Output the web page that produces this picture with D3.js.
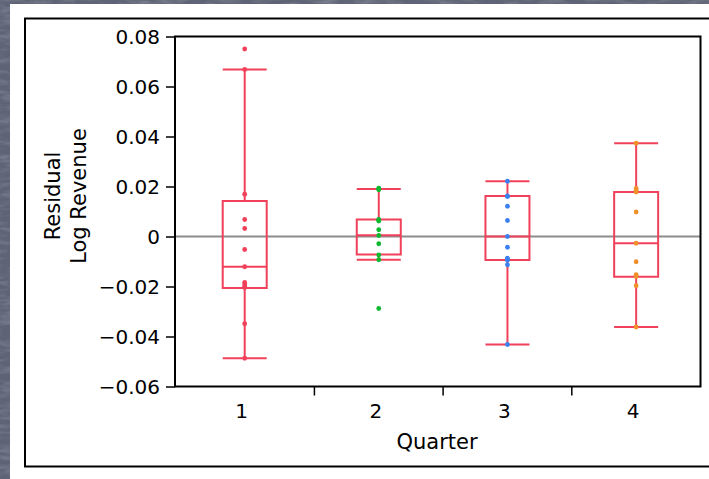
<!DOCTYPE html>
<html>
<head>
<meta charset="utf-8">
<script src="https://cdn.jsdelivr.net/npm/d3@7"></script>
<style>
  html, body { margin: 0; padding: 0; background: #5e6475; }
  svg { display: block; }
  text { font-family: "DejaVu Sans", "Lucida Grande", sans-serif; fill: #000; }
</style>
</head>
<body>
<svg id="chart" width="709" height="479"></svg>
<script>
// ---- data ----
const quarters = ["1", "2", "3", "4"];
const q1Points = [0.0750, 0.0668, 0.0169, 0.0068, 0.0032, -0.0052, -0.0121, -0.0184, -0.0190, -0.0198, -0.0204, -0.0349, -0.0487];
const q2Points = [0.0193, 0.0190, 0.0187, 0.0068, 0.0065, 0.0062, 0.0027, 0.0004, -0.0029, -0.0074, -0.0093, -0.0288];
const q3Points = [0.0221, 0.0162, 0.0160, 0.0121, 0.0064, 0.0000, -0.0043, -0.0087, -0.0090, -0.0094, -0.0113, -0.0432];
const q4Points = [0.0373, 0.0192, 0.0185, 0.0178, 0.0098, -0.0027, -0.0101, -0.0153, -0.0156, -0.0160, -0.0197, -0.0362];
const pointSets = [q1Points, q2Points, q3Points, q4Points];
// box statistics per quarter
const whiskerHigh = [0.0668, 0.0190, 0.0221, 0.0373];
const boxQ3       = [0.0142, 0.0068, 0.0162, 0.0178];
const boxMedian   = [-0.0121, 0.0005, 0.0000, -0.0027];
const boxQ1       = [-0.0206, -0.0072, -0.0094, -0.0161];
const whiskerLow  = [-0.0487, -0.0093, -0.0432, -0.0362];
const yTicks = [0.08, 0.06, 0.04, 0.02, 0, -0.02, -0.04, -0.06];
const pointColors = ["#f0405a", "#10b830", "#3a80f0", "#f0902a"];
const boxColor = "#f0405a";

// ---- layout ----
const svg = d3.select("#chart");
const defs = svg.append("defs");
const f = defs.append("filter").attr("id", "tex").attr("x", 0).attr("y", 0).attr("width", 1).attr("height", 1);
f.append("feTurbulence").attr("type", "fractalNoise").attr("baseFrequency", "0.05 0.2").attr("numOctaves", 3).attr("seed", 7).attr("result", "n");
f.append("feColorMatrix").attr("in", "n").attr("type", "matrix")
  .attr("values", "0 0 0 0 0.52  0 0 0 0 0.55  0 0 0 0 0.62  0.6 0 0 0 -0.25");
svg.append("rect").attr("width", 709).attr("height", 479).attr("fill", "#5e6475");
svg.append("rect").attr("width", 709).attr("height", 479).attr("filter", "url(#tex)");

// white panel and frame
svg.append("rect").attr("x", 10).attr("y", 4).attr("width", 720).attr("height", 490).attr("fill", "#fff");
svg.append("rect").attr("x", 25).attr("y", 18.5).attr("width", 700).attr("height", 448)
  .attr("fill", "none").attr("stroke", "#000").attr("stroke-width", 2);

const plot = { left: 175, right: 700.5, top: 36.5, bottom: 386.5 };

const y = d3.scaleLinear().domain([-0.06, 0.08]).range([plot.bottom, plot.top]);

// x axis proportional to group sizes
const counts = pointSets.map(p => p.length);
const total = d3.sum(counts);
const xUnit = d3.scaleLinear().domain([0, total]).range([plot.left, plot.right]);
const cum = [0];
counts.forEach(c => cum.push(cum[cum.length - 1] + c));
const bounds = cum.map(c => xUnit(c));
const centers = quarters.map((q, i) => (bounds[i] + bounds[i + 1]) / 2);
const halfBox = 22;

// zero reference line
svg.append("line").attr("x1", plot.left).attr("x2", plot.right)
  .attr("y1", y(0)).attr("y2", y(0)).attr("stroke", "#8c8c8c").attr("stroke-width", 2);

// boxes
const g = svg.append("g");
quarters.forEach((q, i) => {
  const cx = centers[i];
  const grp = g.append("g").attr("stroke", boxColor).attr("stroke-width", 2).attr("fill", "none");
  grp.append("line").attr("x1", cx).attr("x2", cx).attr("y1", y(whiskerHigh[i])).attr("y2", y(boxQ3[i]));
  grp.append("line").attr("x1", cx).attr("x2", cx).attr("y1", y(boxQ1[i])).attr("y2", y(whiskerLow[i]));
  grp.append("line").attr("x1", cx - halfBox).attr("x2", cx + halfBox).attr("y1", y(whiskerHigh[i])).attr("y2", y(whiskerHigh[i]));
  grp.append("line").attr("x1", cx - halfBox).attr("x2", cx + halfBox).attr("y1", y(whiskerLow[i])).attr("y2", y(whiskerLow[i]));
  grp.append("rect").attr("x", cx - halfBox).attr("width", 2 * halfBox)
    .attr("y", y(boxQ3[i])).attr("height", y(boxQ1[i]) - y(boxQ3[i]));
  grp.append("line").attr("x1", cx - halfBox).attr("x2", cx + halfBox).attr("y1", y(boxMedian[i])).attr("y2", y(boxMedian[i]));
  g.append("g").selectAll("circle").data(pointSets[i]).join("circle")
    .attr("cx", cx).attr("cy", d => y(d)).attr("r", 2.4).attr("fill", pointColors[i]);
});

// plot frame
svg.append("rect").attr("x", plot.left).attr("y", plot.top)
  .attr("width", plot.right - plot.left).attr("height", plot.bottom - plot.top)
  .attr("fill", "none").attr("stroke", "#000").attr("stroke-width", 2);

// y axis
const yAxis = d3.axisLeft(y).tickValues(yTicks).tickSize(9).tickPadding(6)
  .tickFormat(d => d === 0 ? "0" : d3.format(".2f")(d).replace("-", "\u2212"));
const ya = svg.append("g").attr("transform", `translate(${plot.left},0)`).call(yAxis);
ya.select(".domain").remove();
ya.selectAll(".tick line").attr("stroke", "#000").attr("stroke-width", 1.5);
ya.selectAll(".tick text").style("font-size", "20px").attr("dy", "0.36em");

// x axis: ticks at group boundaries, labels at group centers
const xa = svg.append("g");
xa.selectAll("line").data(bounds.slice(1, -1)).join("line")
  .attr("x1", d => d).attr("x2", d => d).attr("y1", plot.bottom).attr("y2", plot.bottom + 9)
  .attr("stroke", "#000").attr("stroke-width", 1.5);
xa.selectAll("text").data(quarters).join("text")
  .attr("x", (d, i) => centers[i] - 3).attr("y", 418)
  .attr("text-anchor", "middle").style("font-size", "20px").text(d => d);

// titles
svg.append("text").attr("x", 437).attr("y", 449).attr("text-anchor", "middle")
  .style("font-size", "21px").text("Quarter");
const yt = svg.append("text").attr("text-anchor", "middle").style("font-size", "21px");
yt.append("tspan").attr("x", -196).attr("y", 60).text("Residual");
yt.append("tspan").attr("x", -196).attr("y", 86).text("Log Revenue");
yt.attr("transform", "rotate(-90)");
</script>
</body>
</html>
